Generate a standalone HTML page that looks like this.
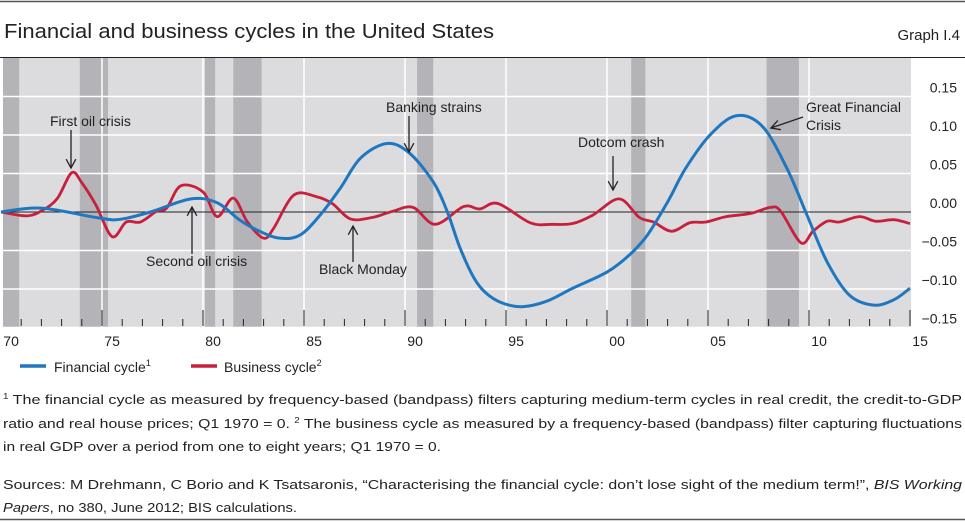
<!DOCTYPE html>
<html><head><meta charset="utf-8"><style>
html,body{margin:0;padding:0;background:#fff}
svg{display:block;font-family:"Liberation Sans",sans-serif}
</style></head><body>
<svg id="chart" width="965" height="523" viewBox="0 0 965 523" xmlns="http://www.w3.org/2000/svg">
<line x1="0" y1="1.5" x2="965" y2="1.5" stroke="#555" stroke-width="1.5"/>
<text x="4" y="38" font-size="20" fill="#222" textLength="490" lengthAdjust="spacingAndGlyphs">Financial and business cycles in the United States</text>
<text x="960" y="40" font-size="15" fill="#222" text-anchor="end">Graph I.4</text>
<g id="plot"></g>
<g id="legend">
<line x1="20" y1="366" x2="46" y2="366" stroke="#1f77c0" stroke-width="3.5"/>
<text x="54" y="372" font-size="14" fill="#222">Financial cycle<tspan font-size="9" dy="-6">1</tspan></text>
<line x1="191" y1="366" x2="217" y2="366" stroke="#c8203c" stroke-width="3.5"/>
<text x="224" y="372" font-size="14" fill="#222">Business cycle<tspan font-size="9" dy="-6">2</tspan></text>
</g>
<g font-size="13" fill="#222">
<text x="3" y="404" textLength="959" lengthAdjust="spacingAndGlyphs"><tspan font-size="8" dy="-5">1</tspan><tspan dy="5">  The financial cycle as measured by frequency-based (bandpass) filters capturing medium-term cycles in real credit, the credit-to-GDP</tspan></text>
<text x="3" y="428" textLength="959" lengthAdjust="spacingAndGlyphs">ratio and real house prices; Q1 1970 = 0.   <tspan font-size="8" dy="-5">2</tspan><tspan dy="5">  The business cycle as measured by a frequency-based (bandpass) filter capturing fluctuations</tspan></text>
<text x="3" y="451" textLength="438" lengthAdjust="spacingAndGlyphs">in real GDP over a period from one to eight years; Q1 1970 = 0.</text>
<text x="3" y="489" textLength="959" lengthAdjust="spacingAndGlyphs">Sources: M Drehmann, C Borio and K Tsatsaronis, “Characterising the financial cycle: don’t lose sight of the medium term!”, <tspan font-style="italic">BIS Working</tspan></text>
<text x="3" y="512" textLength="294" lengthAdjust="spacingAndGlyphs"><tspan font-style="italic">Papers</tspan>, no 380, June 2012; BIS calculations.</text>
</g>
<line x1="0" y1="519.5" x2="965" y2="519.5" stroke="#555" stroke-width="1.5"/>
</svg>
<script>
const finYears=[1970,1972,1974.9,1975.9,1977.4,1979.4,1980.7,1981.8,1982.8,1983.8,1984.8,1985.8,1986.8,1987.8,1989.1,1990.2,1991.4,1992.1,1992.7,1993.4,1994.0,1994.8,1995.8,1997,1998.3,2000,2001.1,2002,2003,2003.9,2005.1,2006.4,2007.7,2008.9,2009.9,2010.9,2012,2013.2,2014.2,2015];
const finValues=[0,0.005,-0.008,-0.0095,0,0.017,0.012,-0.010,-0.025,-0.034,-0.030,-0.004,0.031,0.070,0.089,0.077,0.039,0.000,-0.045,-0.085,-0.105,-0.118,-0.123,-0.116,-0.099,-0.078,-0.056,-0.030,0.013,0.057,0.100,0.125,0.111,0.057,-0.004,-0.065,-0.108,-0.121,-0.114,-0.099];
const busYears=[1970,1971.3,1972.1,1972.8,1973.5,1974.0,1974.7,1975.5,1976.2,1976.9,1977.7,1978.2,1978.9,1980,1980.7,1981.5,1982.2,1983,1983.5,1984.5,1985.6,1986.4,1987.3,1988.4,1989.4,1990.4,1991.5,1992.9,1993.7,1994.6,1996.2,1997.3,1998.3,1999.3,2000.6,2001.6,2002.3,2003.2,2004.1,2004.9,2005.9,2007.1,2008.1,2008.6,2009.6,2010.2,2010.9,2011.5,2012.5,2013.3,2014.2,2015];
const busValues=[0,-0.005,0.003,0.018,0.051,0.038,0.009,-0.032,-0.013,-0.013,0.001,0.005,0.034,0.026,-0.006,0.018,-0.013,-0.034,-0.021,0.022,0.020,0.011,-0.009,-0.007,0.001,0.006,-0.016,0.007,0.004,0.011,-0.014,-0.016,-0.015,-0.004,0.017,-0.007,-0.013,-0.025,-0.014,-0.013,-0.006,-0.002,0.006,0.001,-0.040,-0.025,-0.012,-0.013,-0.006,-0.012,-0.010,-0.015];
const recessionStarts=[1970.1,1973.9,1980.1,1981.5,1990.6,2001.2,2007.9];
const recessionEnds=[1970.9,1975.3,1980.6,1982.9,1991.4,2001.9,2009.5];
const yTicks=[0.15,0.10,0.05,0.00,-0.05,-0.10,-0.15];
const yTickLabels=["0.15","0.10","0.05","0.00","−0.05","−0.10","−0.15"];
const xLabelYears=[1970,1975,1980,1985,1990,1995,2000,2005,2010,2015];
const xLabels=["70","75","80","85","90","95","00","05","10","15"];

const NS="http://www.w3.org/2000/svg";
const X0=1,PX=20.2,Y0=212,PY=770,TOP=58,BOT=327,LEFT=3,RIGHT=911;
const xs=y=>X0+(y-1970)*PX;
const ys=v=>Y0-v*PY;
const plot=document.getElementById('plot');
function mk(tag,attrs,parent){const e=document.createElementNS(NS,tag);for(const k in attrs)e.setAttribute(k,attrs[k]);(parent||plot).appendChild(e);return e;}

let bg=mk('rect',{x:LEFT,y:TOP,width:RIGHT-LEFT,height:BOT-TOP,fill:'#dcdcde'});


for(let i=0;i<recessionStarts.length;i++){
  const a=Math.max(LEFT,xs(recessionStarts[i])),b=xs(recessionEnds[i]);
  let r=mk('rect',{x:a,y:TOP,width:b-a,height:BOT-TOP,fill:'#b4b4b8'});
  
  
}
yTicks.forEach((v,i)=>{
  if(v!==0){let g=mk('line',{x1:LEFT,x2:RIGHT,y1:ys(v),y2:ys(v),stroke:'#fff','stroke-width':1.5});
  
  }
  let t=mk('text',{x:957,y:ys(v)-4,'font-size':14,fill:'#222','text-anchor':'end'});
  t.textContent=yTickLabels[i];
  
  
});
for(let yr=1975;yr<=2010;yr+=5){
  let g=mk('line',{x1:xs(yr),x2:xs(yr),y1:TOP,y2:BOT,stroke:'#fff','stroke-width':1.5});
  
  
}
for(let yr=1971;yr<=2015;yr++){
  const long=yr%5===0;
  let t=mk('line',{x1:xs(yr),x2:xs(yr),y1:long?310:319,y2:326,stroke:'#222','stroke-width':1});
  
  
}
xLabelYears.forEach((yr,i)=>{
  let t=mk('text',{x:Math.max(11,xs(yr+0.5)),y:346,'font-size':14,fill:'#222','text-anchor':'middle'});
  t.textContent=xLabels[i];
  
  
});
let zl=mk('line',{x1:LEFT,x2:RIGHT,y1:ys(0),y2:ys(0),stroke:'#222','stroke-width':1});


let axisTop=mk('line',{x1:0,x2:965,y1:TOP-0.5,y2:TOP-0.5,stroke:'#222','stroke-width':1});



function smooth(xa,va){
  const p=xa.map((x,i)=>[xs(x),ys(va[i])]);
  let d=`M${p[0][0]},${p[0][1]}`;
  for(let i=0;i<p.length-1;i++){
    const p0=p[Math.max(0,i-1)],p1=p[i],p2=p[i+1],p3=p[Math.min(p.length-1,i+2)];
    const c1=[p1[0]+(p2[0]-p0[0])/6,p1[1]+(p2[1]-p0[1])/6];
    const c2=[p2[0]-(p3[0]-p1[0])/6,p2[1]-(p3[1]-p1[1])/6];
    d+=` C${c1[0]},${c1[1]} ${c2[0]},${c2[1]} ${p2[0]},${p2[1]}`;
  }
  return d;
}
let bus=mk('path',{d:smooth(busYears,busValues),fill:'none',stroke:'#c8203c','stroke-width':2.8,'stroke-linejoin':'round'});


let fin=mk('path',{d:smooth(finYears,finValues),fill:'none',stroke:'#1f77c0','stroke-width':3,'stroke-linejoin':'round'});



function annot(name,lines,tx,ty,ax1,ay1,ax2,ay2){
  const g=mk('g',{});
  
  
  lines.forEach((s,i)=>{const t=mk('text',{x:tx,y:ty+i*18,'font-size':14,fill:'#222'},g);t.textContent=s;});
  mk('line',{x1:ax1,y1:ay1,x2:ax2,y2:ay2,stroke:'#222','stroke-width':1.3},g);
  const ang=Math.atan2(ay2-ay1,ax2-ax1),L=10,w=0.5;
  mk('polyline',{points:`${ax2-L*Math.cos(ang-w)},${ay2-L*Math.sin(ang-w)} ${ax2},${ay2} ${ax2-L*Math.cos(ang+w)},${ay2-L*Math.sin(ang+w)}`,fill:'none',stroke:'#222','stroke-width':1.3},g);
}
annot('annotation-first-oil-crisis',['First oil crisis'],50,126,71,130,71,168);
annot('annotation-second-oil-crisis',['Second oil crisis'],146,266,192,254,192,207);
annot('annotation-black-monday',['Black Monday'],319,274,353,262,353,226);
annot('annotation-banking-strains',['Banking strains'],386,112,409,116,409,152);
annot('annotation-dotcom-crash',['Dotcom crash'],578,147,613,156,613,190);
annot('annotation-great-financial-crisis',['Great Financial','Crisis'],806,112,803,117,771,128);
</script>
</body></html>
